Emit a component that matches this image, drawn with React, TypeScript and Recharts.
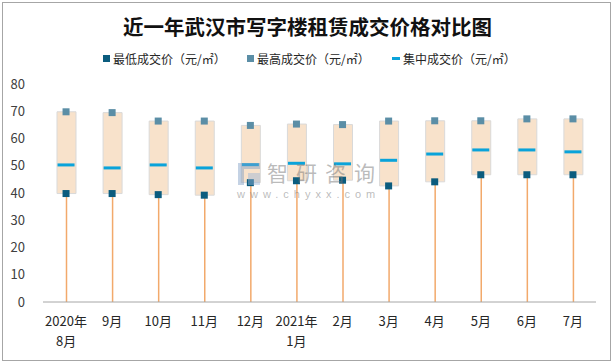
import React from 'react';
import { ComposedChart, Bar, Line, XAxis, YAxis } from 'recharts';

const months = ['2020年\n8月', '9月', '10月', '11月', '12月', '2021年\n1月', '2月', '3月', '4月', '5月', '6月', '7月'];
const lowPrice = [39.8, 39.8, 39.4, 39.2, 43.8, 44.5, 44.7, 42.6, 44.1, 46.7, 46.7, 46.7];
const highPrice = [69.8, 69.5, 66.4, 66.4, 64.8, 65.3, 65.1, 66.4, 66.5, 66.5, 67.2, 67.2];
const midPrice = [50.3, 49.2, 50.3, 49.2, 50.4, 50.9, 50.7, 52.0, 54.3, 55.8, 55.8, 55.1];
const yTicks = [0, 10, 20, 30, 40, 50, 60, 70, 80];

const data = months.map((name, i) => ({
  name,
  low: lowPrice[i],
  high: highPrice[i],
  mid: midPrice[i],
  base: lowPrice[i],
  range: highPrice[i] - lowPrice[i],
}));

const FONT = "'Noto Sans CJK SC', 'Noto Sans', sans-serif";

// base bar is drawn as the orange stem from 0 up to the low price
const Stem = (props: any) => {
  const { x, y, width, height } = props;
  const cx = x + width / 2;
  return <line x1={cx} x2={cx} y1={y} y2={y + height} stroke="#F2A96B" strokeWidth={1.5} />;
};

const Square = (color: string) => (props: any) => {
  const { cx, cy, index } = props;
  if (cx == null || cy == null) return <g key={index} />;
  return <rect key={index} x={cx - 3.5} y={cy - 3.5} width={7} height={7} fill={color} />;
};

const MidMark = (props: any) => {
  const { cx, cy, index } = props;
  if (cx == null || cy == null) return <g key={index} />;
  return <rect key={index} x={cx - 8.5} y={cy - 1.5} width={17} height={3} fill="#0AA3DA" />;
};

const MonthTick = (props: any) => {
  const { x, y, payload } = props;
  const lines = String(payload.value).split('\n');
  return (
    <text x={x} y={y} textAnchor="middle" fill="#262626" fontSize={13} fontFamily={FONT}>
      {lines.map((l, i) => (
        <tspan key={i} x={x} dy={i === 0 ? 16 : 20}>{l}</tspan>
      ))}
    </text>
  );
};

const legendItems = [
  { label: '最低成交价（元/㎡）', color: '#0B5C7E', left: 103, kind: 'square' },
  { label: '最高成交价（元/㎡）', color: '#5B8EA6', left: 247, kind: 'square' },
  { label: '集中成交价（元/㎡）', color: '#0AA3DA', left: 392, kind: 'line' },
];

export default function App() {
  return (
    <div style={{ position: 'absolute', left: 0, top: 0, width: 615, height: 364, background: '#fff', fontFamily: FONT }}>
      <div style={{ position: 'absolute', left: 2, top: 2, width: 607, height: 357, border: '1px solid #A6A6A6' }} />
      <div style={{ position: 'absolute', left: 0, top: 13, width: 615, textAlign: 'center', fontSize: 20.5, fontWeight: 700, lineHeight: '26px', color: '#111' }}>
        近一年武汉市写字楼租赁成交价格对比图
      </div>
      {legendItems.map((it) => (
        <div key={it.label} style={{ position: 'absolute', left: it.left, top: 50, height: 16, display: 'flex', alignItems: 'center', fontSize: 12, color: '#262626', whiteSpace: 'nowrap' }}>
          <span style={{ display: 'inline-block', width: it.kind === 'square' ? 7 : 8, height: it.kind === 'square' ? 7 : 3, background: it.color, marginRight: 3 }} />
          {it.label}
        </div>
      ))}
      <div style={{ position: 'absolute', left: 0, top: 0 }}>
        <ComposedChart width={615} height={364} data={data} margin={{ top: 84, right: 19, left: 0, bottom: 12 }}>
          <XAxis
            dataKey="name"
            interval={0}
            height={50}
            tickLine={false}
            axisLine={{ stroke: '#A6A6A6' }}
            tick={<MonthTick />}
          />
          <YAxis
            domain={[0, 80]}
            ticks={yTicks}
            width={43}
            axisLine={false}
            tickLine={false}
            tickMargin={12}
            tick={{ fill: '#404040', fontSize: 13, fontFamily: FONT }}
          />
          <Bar dataKey="base" stackId="box" barSize={19} shape={<Stem />} isAnimationActive={false} />
          <Bar dataKey="range" stackId="box" barSize={19} fill="#F8E2CB" stroke="#D9D9D9" strokeWidth={1} isAnimationActive={false} />
          <Line dataKey="mid" stroke="none" dot={MidMark} activeDot={false} isAnimationActive={false} />
          <Line dataKey="low" stroke="none" dot={Square('#0B5C7E')} activeDot={false} isAnimationActive={false} />
          <Line dataKey="high" stroke="none" dot={Square('#5B8EA6')} activeDot={false} isAnimationActive={false} />
        </ComposedChart>
      </div>
      {/* watermark */}
      <div style={{ position: 'absolute', left: 238, top: 163, width: 22, height: 22, pointerEvents: 'none', opacity: 0.45 }}>
        <div style={{ position: 'absolute', left: 0, top: 0, width: 22, height: 6, background: '#7E9CC4' }} />
        <div style={{ position: 'absolute', left: 0, top: 0, width: 6, height: 22, background: '#7E9CC4' }} />
        <div style={{ position: 'absolute', left: 10, top: 10, width: 12, height: 12, background: '#9BB5D8' }} />
      </div>
      <div style={{ position: 'absolute', left: 267, top: 161, fontSize: 21, letterSpacing: 8, color: 'rgba(120,120,120,0.5)', lineHeight: '22px', pointerEvents: 'none', whiteSpace: 'nowrap' }}>
        智研咨询
      </div>
      <div style={{ position: 'absolute', left: 237, top: 188, fontSize: 11, letterSpacing: 5, color: 'rgba(120,120,120,0.5)', fontFamily: "'Liberation Sans', sans-serif", lineHeight: '12px', pointerEvents: 'none', whiteSpace: 'nowrap' }}>
        www.chyxx.com
      </div>
    </div>
  );
}
